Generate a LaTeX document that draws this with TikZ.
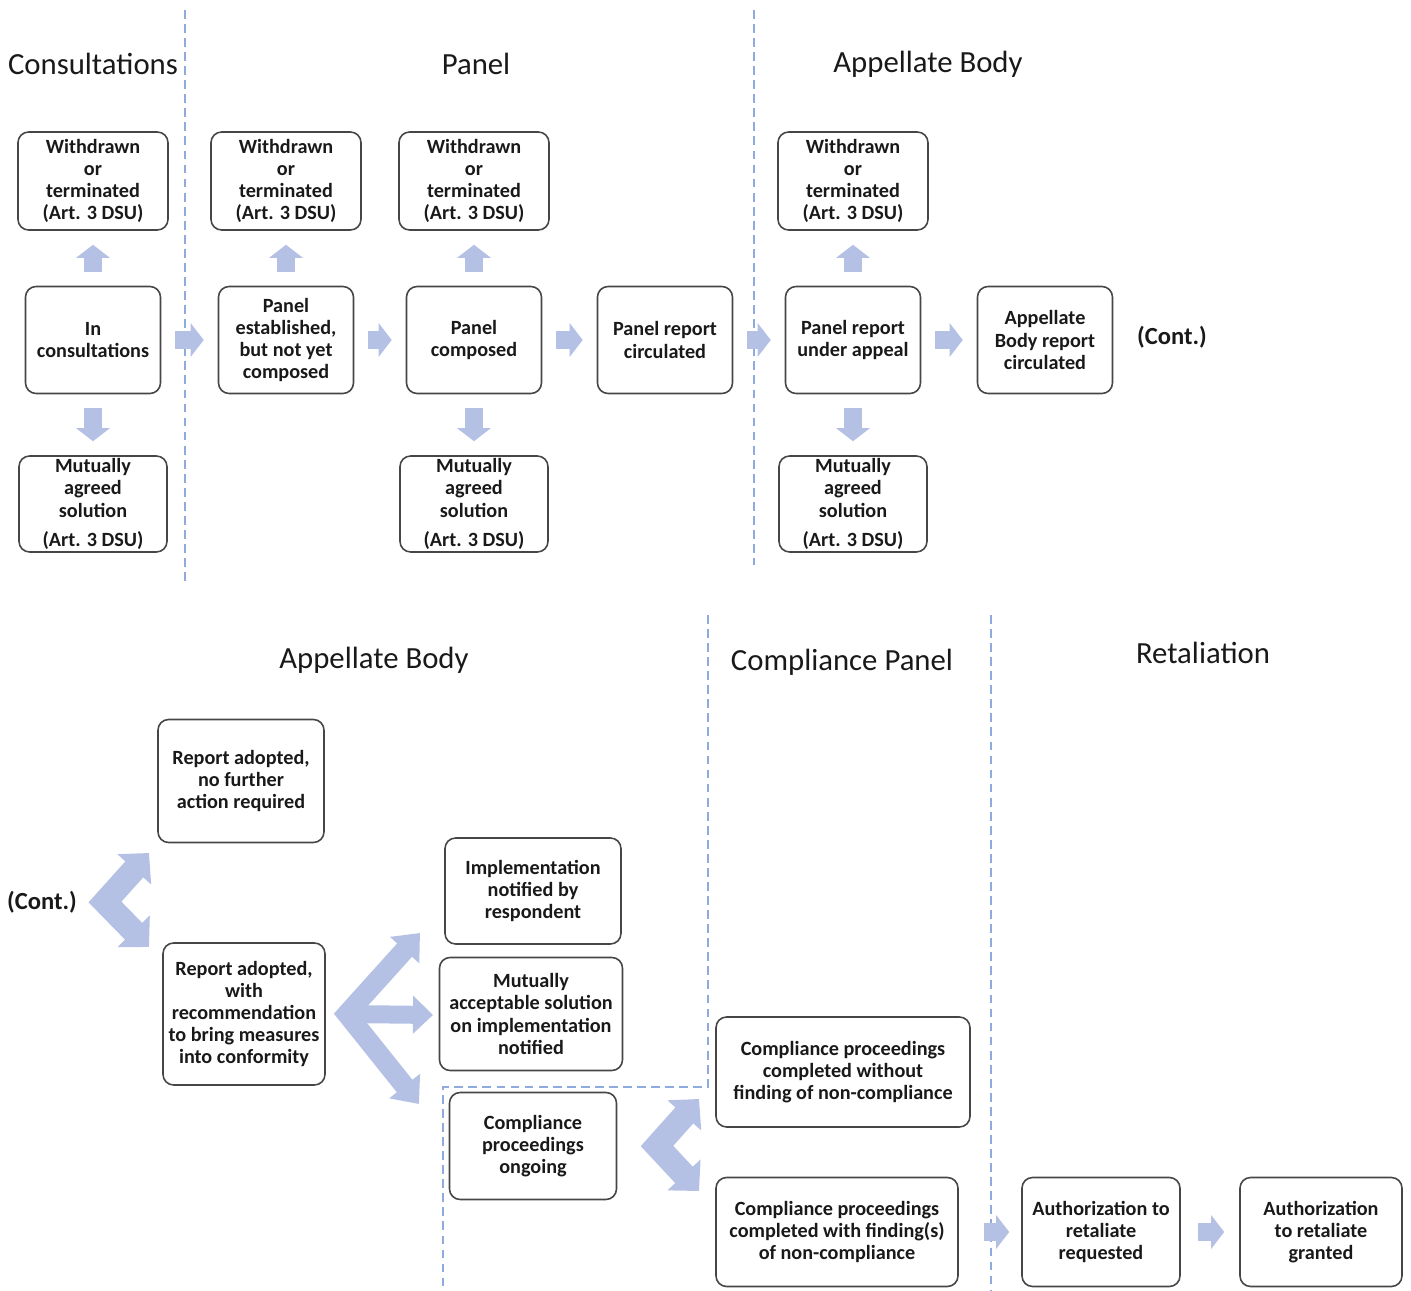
\documentclass[tikz,border=0pt]{standalone}
\usepackage{fontspec}
\setmainfont{Carlito}
\usetikzlibrary{arrows.meta,positioning}
\definecolor{flowblue}{RGB}{180,193,228}
\definecolor{dashblue}{RGB}{143,170,220}
\definecolor{boxgray}{RGB}{70,70,70}
\definecolor{inkblack}{RGB}{25,25,25}

\begin{document}
\begin{tikzpicture}[x=0.02cm, y=-0.02cm, text=inkblack,
    stage/.style={rectangle, rounded corners=6pt, draw=boxgray, line width=0.9pt, align=center, inner sep=1pt, font=\fontsize{11.5}{12.6}\selectfont\bfseries},
    wdbox/.style={stage, minimum width=3cm, minimum height=1.96cm},
    mainbox/.style={stage, minimum width=2.7cm, minimum height=2.14cm},
    masbox/.style={stage, minimum width=2.96cm, minimum height=1.92cm},
    heading/.style={font=\fontsize{17.5}{21}\selectfont},
    cont/.style={font=\fontsize{14}{16}\selectfont\bfseries},
    phase/.style={draw=dashblue, line width=0.9pt, dash pattern=on 5pt off 3pt},
    flow/.style={draw=flowblue, line width=0.36cm, -{Triangle[width=0.66cm,length=0.26cm]}, shorten <=0.28cm, shorten >=0.28cm},
    fork/.style={draw=flowblue, line width=0.48cm, line join=miter, {Triangle[width=0.88cm,length=0.44cm]}-{Triangle[width=0.88cm,length=0.44cm]}},
    wideforks/.style={draw=flowblue, line width=0.4cm, line join=miter, {Triangle[width=0.76cm,length=0.46cm]}-{Triangle[width=0.76cm,length=0.46cm]}},
    branch/.style={draw=flowblue, line width=0.36cm, -{Triangle[width=0.74cm,length=0.4cm]}}
]
\useasboundingbox (0,0) rectangle (1411,1291);

% Phase separators
\draw[phase] (185,10) -- (185,585);
\draw[phase] (754,10) -- (754,565);
\draw[phase] (708,615) -- (708,1087) -- (443,1087) -- (443,1291);
\draw[phase] (991,615) -- (991,1291);

% Headings, first part
\node[heading] (hcons) at (93,64) {Consultations};
\node[heading] (hpanel) at (476,64) {Panel};
\node[heading] (hab) at (928,64) {Appellate Body};

% Withdrawn or terminated
\node[wdbox] (wd1) at (93,181) {Withdrawn\\or\\terminated\\(Art. 3 DSU)};
\node[wdbox] (wd2) at (286,181) {Withdrawn\\or\\terminated\\(Art. 3 DSU)};
\node[wdbox] (wd3) at (474,181) {Withdrawn\\or\\terminated\\(Art. 3 DSU)};
\node[wdbox] (wd4) at (853,181) {Withdrawn\\or\\terminated\\(Art. 3 DSU)};

% Main stages
\node[mainbox] (incons) at (93,340) {In\\consultations};
\node[mainbox] (established) at (286,340) {Panel\\established,\\but not yet\\composed};
\node[mainbox] (composed) at (474,340) {Panel\\composed};
\node[mainbox] (circulated) at (665,340) {Panel report\\circulated};
\node[mainbox] (appeal) at (853,340) {Panel report\\under appeal};
\node[mainbox] (abreport) at (1045,340) {Appellate\\Body report\\circulated};
\node[cont] (cont1) at (1172,337) {(Cont.)};

% Mutually agreed solution
\node[masbox] (mas1) at (93,504) {Mutually\\agreed\\solution\\[4pt](Art. 3 DSU)};
\node[masbox] (mas2) at (474,504) {Mutually\\agreed\\solution\\[4pt](Art. 3 DSU)};
\node[masbox] (mas3) at (853,504) {Mutually\\agreed\\solution\\[4pt](Art. 3 DSU)};

% Arrows, first part
\draw[flow] (incons) -- (wd1);
\draw[flow] (established) -- (wd2);
\draw[flow] (composed) -- (wd3);
\draw[flow] (appeal) -- (wd4);
\draw[flow] (incons) -- (mas1);
\draw[flow] (composed) -- (mas2);
\draw[flow] (appeal) -- (mas3);
\draw[flow] (incons) -- (established);
\draw[flow] (established) -- (composed);
\draw[flow] (composed) -- (circulated);
\draw[flow] (circulated) -- (appeal);
\draw[flow] (appeal) -- (abreport);

% Headings, second part
\node[heading] (hab2) at (374,660) {Appellate Body};
\node[heading] (hcomp) at (842,662) {Compliance Panel};
\node[heading] (hretal) at (1203,653) {Retaliation};

% Stages, second part
\node[cont] (cont2) at (42,902) {(Cont.)};
\node[stage, minimum width=3.32cm, minimum height=2.46cm] (nofurther) at (241,781) {Report adopted,\\no further\\action required};
\node[stage, minimum width=3.24cm, minimum height=2.84cm] (withrec) at (244,1014) {Report adopted,\\with\\recommendation\\to bring measures\\into conformity};
\node[stage, minimum width=3.52cm, minimum height=2.12cm] (implement) at (533,891) {Implementation\\notified by\\respondent};
\node[stage, minimum width=3.66cm, minimum height=2.26cm] (accept) at (531,1014) {Mutually\\acceptable solution\\on implementation\\notified};
\node[stage, minimum width=3.34cm, minimum height=2.14cm] (ongoing) at (533,1146) {Compliance\\proceedings\\ongoing};
\node[stage, minimum width=5.08cm, minimum height=2.2cm] (nofinding) at (843,1072) {Compliance proceedings\\completed without\\finding of non-compliance};
\node[stage, minimum width=4.84cm, minimum height=2.18cm] (finding) at (837,1232) {Compliance proceedings\\completed with finding(s)\\of non-compliance};
\node[stage, minimum width=3.16cm, minimum height=2.18cm] (requested) at (1101,1232) {Authorization to\\retaliate\\requested};
\node[stage, minimum width=3.24cm, minimum height=2.18cm] (granted) at (1321,1232) {Authorization\\to retaliate\\granted};

% Forks
\coordinate (f1) at (105,902);
\coordinate (f1up) at (149,853);
\coordinate (f1dn) at (149,947);
\draw[fork] (f1up) -- (f1) -- (f1dn);

\coordinate (f2) at (347,1014);
\coordinate (f2up) at (420,933);
\coordinate (f2mid) at (433,1015);
\coordinate (f2dn) at (419,1104);
\draw[wideforks] (f2up) -- (f2) -- (f2dn);
\draw[branch] (f2) -- (f2mid);

\coordinate (f3) at (657,1146);
\coordinate (f3up) at (699,1099);
\coordinate (f3dn) at (699,1191);
\draw[fork] (f3up) -- (f3) -- (f3dn);

% Arrows to retaliation
\draw[flow, shorten <=0.5cm, shorten >=0.24cm] (finding) -- (requested);
\draw[flow, shorten <=0.34cm, shorten >=0.3cm] (requested) -- (granted);

\end{tikzpicture}
\end{document}
